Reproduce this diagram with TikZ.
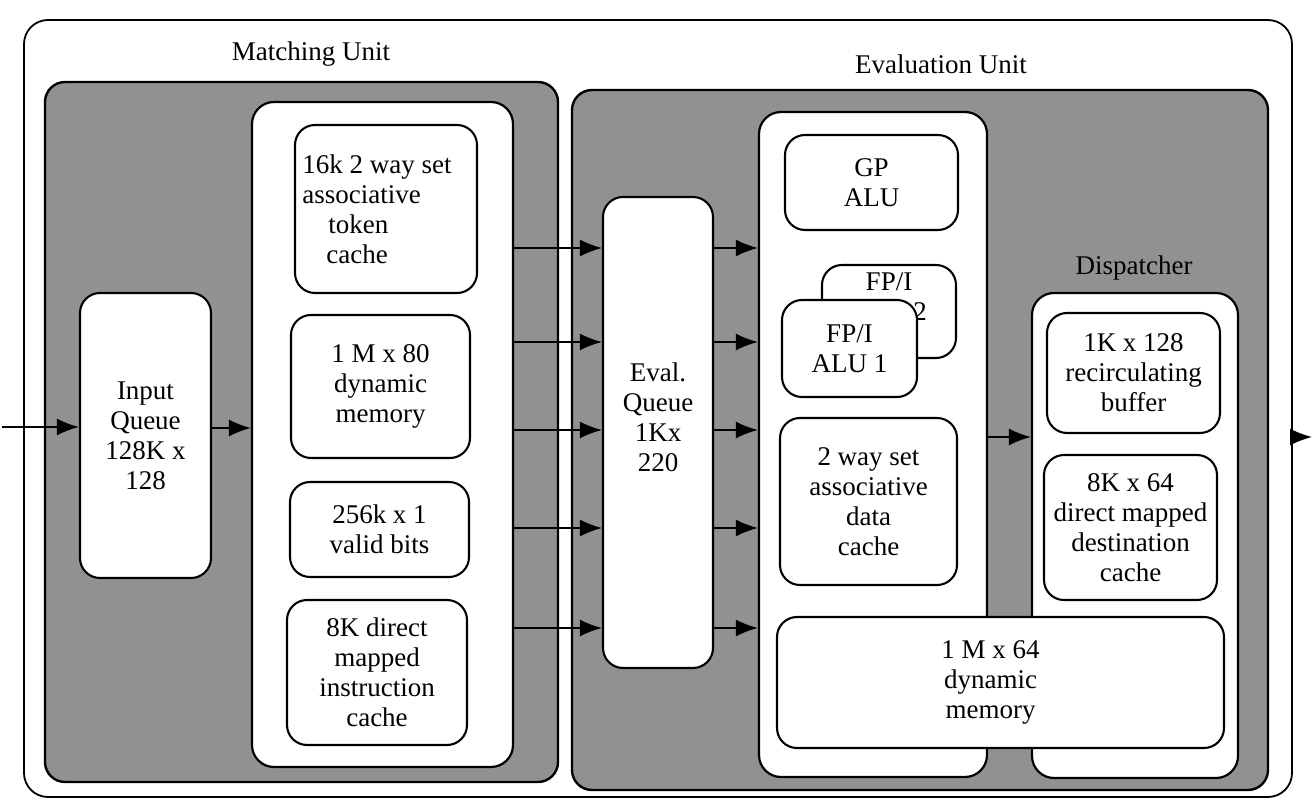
\documentclass[tikz,border=0pt]{standalone}
\usepackage{fontspec}
\setmainfont{Liberation Serif}
\usetikzlibrary{arrows.meta}
\definecolor{patgray}{RGB}{145,145,145}
\begin{document}
\begin{tikzpicture}[x=1pt,y=-1pt,
  every node/.style={font=\fontsize{27}{30}\selectfont},
  spanbox/.style n args={4}{at={({(#1+#3)/2},{(#2+#4)/2})}, minimum width={(#3-#1)*1pt}, minimum height={(#4-#2)*1pt}},
  container/.style={draw, line width=1.8pt, rounded corners=24pt, inner sep=0pt},
  grayarea/.style={draw, fill=patgray, line width=2.4pt, rounded corners=20pt, inner sep=0pt},
  whitearea/.style={draw, fill=white, line width=2.2pt, rounded corners=22pt, inner sep=0pt},
  blk/.style={draw, fill=white, line width=2.1pt, rounded corners=20pt, align=center, inner sep=0pt},
  arr/.style={line width=1.7pt, -{Latex[length=22pt,width=17pt]}},
  lbl/.style={inner sep=0pt},
]
\useasboundingbox (0,0) rectangle (1312,810);

% outer frame
\node[container, spanbox={24}{20}{1292}{797}] (outer) {};
\node[lbl] (mlabel) at (311,54) {Matching Unit};
\node[lbl] (elabel) at (941,64) {Evaluation Unit};

% gray unit areas
\node[grayarea, spanbox={45}{82}{558}{782}] (mgray) {};
\node[grayarea, spanbox={572}{90}{1268}{790}] (egray) {};

% matching unit
\node[blk, spanbox={80}{293}{211}{578}] (iq) {Input\\Queue\\128K x\\128};
\node[whitearea, spanbox={252}{102}{513}{767}] (mi) {};
\node[blk, spanbox={295}{125}{477}{293}, align=left] (tok) {16k 2 way set\hspace*{18pt}\\associative\\\hspace*{26pt}token\\\hspace*{24pt}cache};
\node[blk, spanbox={291}{315}{470}{458}] (dm) {1 M x 80\\dynamic\\memory};
\node[blk, spanbox={290}{482}{469}{577}] (vb) {256k x 1\\valid bits};
\node[blk, spanbox={287}{600}{467}{745}] (ic) {8K direct\\mapped\\instruction\\cache};

% evaluation unit
\node[blk, spanbox={603}{197}{713}{668}] (eq) {Eval.\\Queue\\1Kx\\220\\[0pt]};
\node[whitearea, spanbox={759}{112}{987}{777}] (alu) {};
\node[lbl] (dlabel) at (1134,268) {Dispatcher};
\node[whitearea, spanbox={1032}{293}{1238}{778}] (disp) {};

\node[blk, spanbox={785}{135}{958}{230}] (gp) {GP\\ALU};
\node[blk, spanbox={822}{265}{956}{358}] (fp2) {FP/I\\ALU 2\\[0pt]};
\node[blk, spanbox={782}{300}{917}{397}] (fp1) {FP/I\\ALU 1};
\node[blk, spanbox={780}{418}{957}{585}] (dc) {2 way set\\associative\\data\\cache};

\node[blk, spanbox={1047}{313}{1220}{433}] (rb) {1K x 128\\recirculating\\buffer};
\node[blk, spanbox={1044}{455}{1217}{600}] (dest) {8K x 64\\direct mapped\\destination\\cache};

\node[blk, spanbox={777}{617}{1224}{748}] (dm2) {\begin{tabular}{@{}c@{}}1 M x 64\\dynamic\\memory\end{tabular}\hspace*{20pt}};

% connectors
\coordinate (in) at (2,427);
\coordinate (out) at (1312,437);
\draw[arr] (in) -- (iq.west |- in);
\draw[arr] (iq.east |- 0,428) -- (mi.west |- 0,428);
\foreach \y in {248,342,430,528,628}{
  \draw[arr] (mi.east |- 0,\y) -- (eq.west |- 0,\y);
  \draw[arr] (eq.east |- 0,\y) -- (alu.west |- 0,\y);
}
\draw[arr] (alu.east |- 0,437) -- (disp.west |- 0,437);
\draw[arr] (outer.east |- out) -- (out);
\end{tikzpicture}
\end{document}
